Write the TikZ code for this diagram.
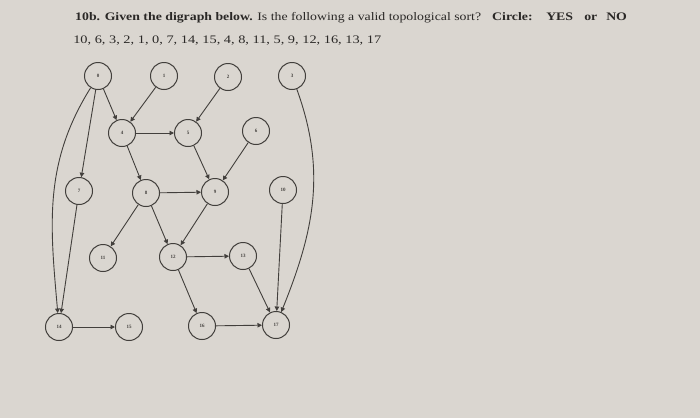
\documentclass[tikz,border=0pt]{standalone}
\usepackage{fontspec}
\setmainfont{Liberation Serif}
\usepackage{tikz}
\usetikzlibrary{arrows.meta, positioning}

\definecolor{paper}{HTML}{DAD6D0}
\definecolor{ink}{HTML}{423F3C}
\definecolor{txt}{HTML}{2A2826}

\begin{document}
\begin{tikzpicture}[x=1pt, y=-1pt, >={Triangle[length=4.5pt,width=4.5pt]},
  vtx/.style={circle, draw=ink, line width=1pt, minimum size=27pt, inner sep=0pt, font=\fontsize{5}{5}\selectfont\bfseries, text=ink},
  arc/.style={->, draw=ink, line width=0.9pt},
  qtext/.style={anchor=base west, text=txt, inner sep=0pt, xscale=1.2, font=\fontsize{11.5}{12}\selectfont}]

\fill[paper] (0,0) rectangle (700,418);
\useasboundingbox (0,0) rectangle (700,418);

% Question text
\node[qtext] (q1) at (75,20) {\textbf{10b. Given the digraph below.} Is the following a valid topological sort?};
\node[qtext, font=\fontsize{11.5}{12}\selectfont\bfseries] (qc) at (492,20) {Circle:};
\node[qtext, font=\fontsize{11.5}{12}\selectfont\bfseries] (qy) at (546,20) {YES};
\node[qtext, font=\fontsize{11.5}{12}\selectfont\bfseries] (qo) at (584,20) {or};
\node[qtext, font=\fontsize{11.5}{12}\selectfont\bfseries] (qn) at (606,20) {NO};
\node[qtext, xscale=1.04] (q2) at (73,43) {10, 6, 3, 2, 1, 0, 7, 14, 15, 4, 8, 11, 5, 9, 12, 16, 13, 17};

% Top row
\node[vtx] (n0) at (98,76) {0};
\node[vtx] (n1) at (164,76) {1};
\node[vtx] (n2) at (228,77) {2};
\node[vtx] (n3) at (292,76) {3};

% Second row
\node[vtx] (n4) at (122,133) {4};
\node[vtx] (n5) at (188,133) {5};
\node[vtx] (n6) at (256,131) {6};

% Third row
\node[vtx] (n7) at (79,191) {7};
\node[vtx] (n8) at (146,193) {8};
\node[vtx] (n9) at (215,192) {9};
\node[vtx] (n10) at (283,190) {10};

% Fourth row
\node[vtx] (n11) at (103,258) {11};
\node[vtx] (n12) at (173,257) {12};
\node[vtx] (n13) at (243,256) {13};

% Bottom row
\node[vtx] (n14) at (59,327) {14};
\node[vtx] (n15) at (129,327) {15};
\node[vtx] (n16) at (202,326) {16};
\node[vtx] (n17) at (276,325) {17};

\draw[arc] (n0) -- (n4);
\draw[arc] (n1) -- (n4);
\draw[arc] (n0) -- (n7);
\draw[arc] (n0) to[out=-122, in=95] (n14);
\draw[arc] (n2) -- (n5);
\draw[arc] (n4) -- (n5);
\draw[arc] (n4) -- (n8);
\draw[arc] (n5) -- (n9);
\draw[arc] (n6) -- (n9);
\draw[arc] (n8) -- (n9);
\draw[arc] (n3) to[out=-70, in=68] (n17);
\draw[arc] (n7) -- (n14);
\draw[arc] (n8) -- (n11);
\draw[arc] (n8) -- (n12);
\draw[arc] (n9) -- (n12);
\draw[arc] (n10) -- (n17);
\draw[arc] (n12) -- (n13);
\draw[arc] (n12) -- (n16);
\draw[arc] (n13) -- (n17);
\draw[arc] (n14) -- (n15);
\draw[arc] (n16) -- (n17);

\end{tikzpicture}
\end{document}
